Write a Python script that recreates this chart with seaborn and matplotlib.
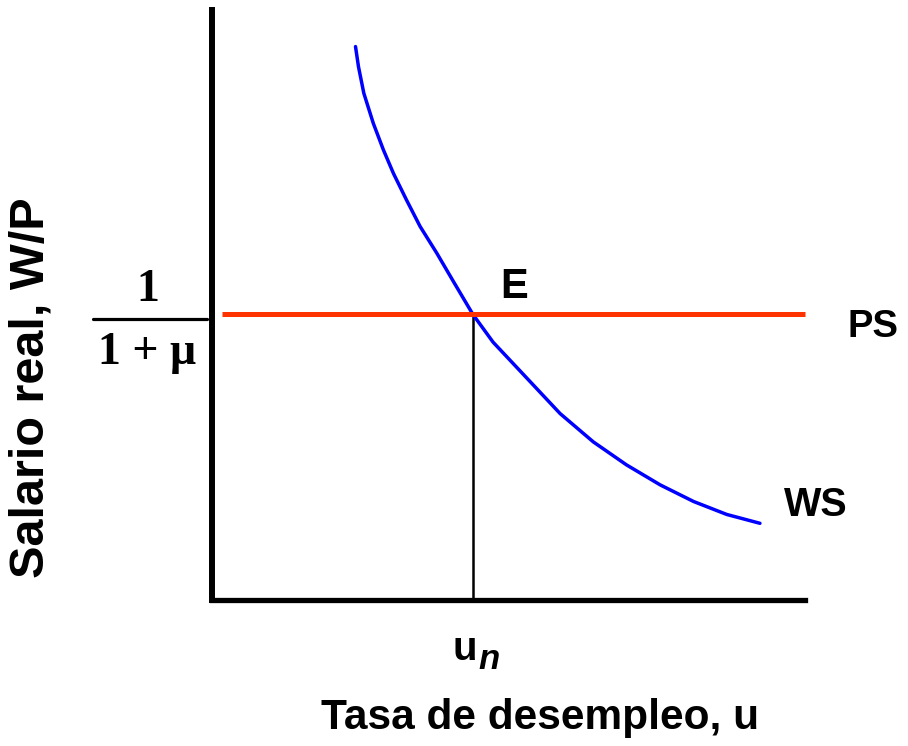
import matplotlib
matplotlib.use("Agg")
import matplotlib.pyplot as plt
from matplotlib.lines import Line2D
import seaborn as sns
import pandas as pd

# ---- data (axis units 0..10) ----
ws_u = [2.42, 2.47, 2.56, 2.72, 2.89, 3.06, 3.28, 3.51, 3.79, 4.07, 4.40,
        4.74, 5.31, 5.87, 6.43, 6.99, 7.56, 8.12, 8.68, 9.24]
ws_w = [9.38, 9.04, 8.59, 8.08, 7.63, 7.23, 6.78, 6.33, 5.88, 5.40, 4.84,
        4.37, 3.76, 3.16, 2.68, 2.29, 1.95, 1.67, 1.45, 1.30]
ps_u = [0.17, 10.0]
ps_w = [4.84, 4.84]
un_u = [4.40, 4.40]
un_w = [0.0, 4.84]

labels = {"ws": "WS", "ps": "PS", "e": "E", "x": "Tasa de desempleo, u",
          "y": "Salario real, W/P", "num": "1", "den": "1 + μ", "u": "u", "n": "n"}

W, H = 908, 746
sns.set_theme(style="white")
plt.rcParams["font.family"] = ["Liberation Sans", "DejaVu Sans"]
plt.rcParams["text.color"] = "black"
plt.rcParams["axes.labelcolor"] = "black"

fig = plt.figure(figsize=(W / 100, H / 100), dpi=100)
fig.patch.set_facecolor("white")
ax = fig.add_axes([212 / W, 1 - 600 / H, 593 / W, 590 / H])
ax.set_facecolor("white")

ws_df = pd.DataFrame({"u": ws_u, "w": ws_w})
ps_df = pd.DataFrame({"u": ps_u, "w": ps_w})
un_df = pd.DataFrame({"u": un_u, "w": un_w})

sns.lineplot(data=un_df, x="u", y="w", ax=ax, color="black", lw=1.8, sort=False,
             estimator=None, zorder=2)
sns.lineplot(data=ws_df, x="u", y="w", ax=ax, color="#0000FF", lw=2.5, sort=False,
             estimator=None, zorder=3, solid_joinstyle="round", solid_capstyle="round")
sns.lineplot(data=ps_df, x="u", y="w", ax=ax, color="#FF3300", lw=3.6, sort=False,
             estimator=None, zorder=4, solid_capstyle="butt")
for l in ax.lines:
    l.set_clip_on(False)

ax.set_xlim(0, 10)
ax.set_ylim(0, 10)
ax.set_xticks([])
ax.set_yticks([])
for s in ["top", "right"]:
    ax.spines[s].set_visible(False)
ax.spines["left"].set_linewidth(4.3)
ax.spines["bottom"].set_linewidth(3.8)
ax.spines["left"].set_color("black")
ax.spines["bottom"].set_color("black")

ax.set_xlabel(labels["x"], fontsize=30.5, fontweight="bold", color="black")
ax.xaxis.set_label_coords((540 - 212) / 593, (600 - 718) / 590)
ax.xaxis.label.set_va("center")
ax.set_ylabel(labels["y"], fontsize=35, fontweight="bold", color="black")
ax.yaxis.set_label_coords((31 - 212) / 593, (600 - 388) / 590)
ax.yaxis.label.set_va("center")


def ftxt(x, y, s, **kw):
    fig.text(x / W, 1 - y / H, s, color="black", **kw)


ftxt(514, 298, labels["e"], fontsize=30, fontweight="bold", ha="center", va="baseline")
ftxt(873, 337, labels["ps"], fontsize=27.5, fontweight="bold", ha="center", va="baseline")
ftxt(816, 516, labels["ws"], fontsize=28.5, fontweight="bold", ha="center", va="baseline")
ftxt(465, 660, labels["u"], fontsize=29, fontweight="bold", ha="center", va="baseline")
ftxt(489, 669, labels["n"], fontsize=25, fontweight="bold", style="italic", ha="center", va="baseline")

serif = ["Liberation Serif", "DejaVu Serif"]
ftxt(148, 301, labels["num"], fontsize=33, fontweight="bold", family=serif, ha="center", va="baseline")
ftxt(147, 364, labels["den"], fontsize=33, fontweight="bold", family=serif, ha="center", va="baseline")
fig.add_artist(Line2D([93 / W, 207 / W], [1 - 319 / H, 1 - 319 / H], transform=fig.transFigure,
                      color="black", lw=2.3))

fig.savefig("out.png", dpi=100, facecolor="white")
